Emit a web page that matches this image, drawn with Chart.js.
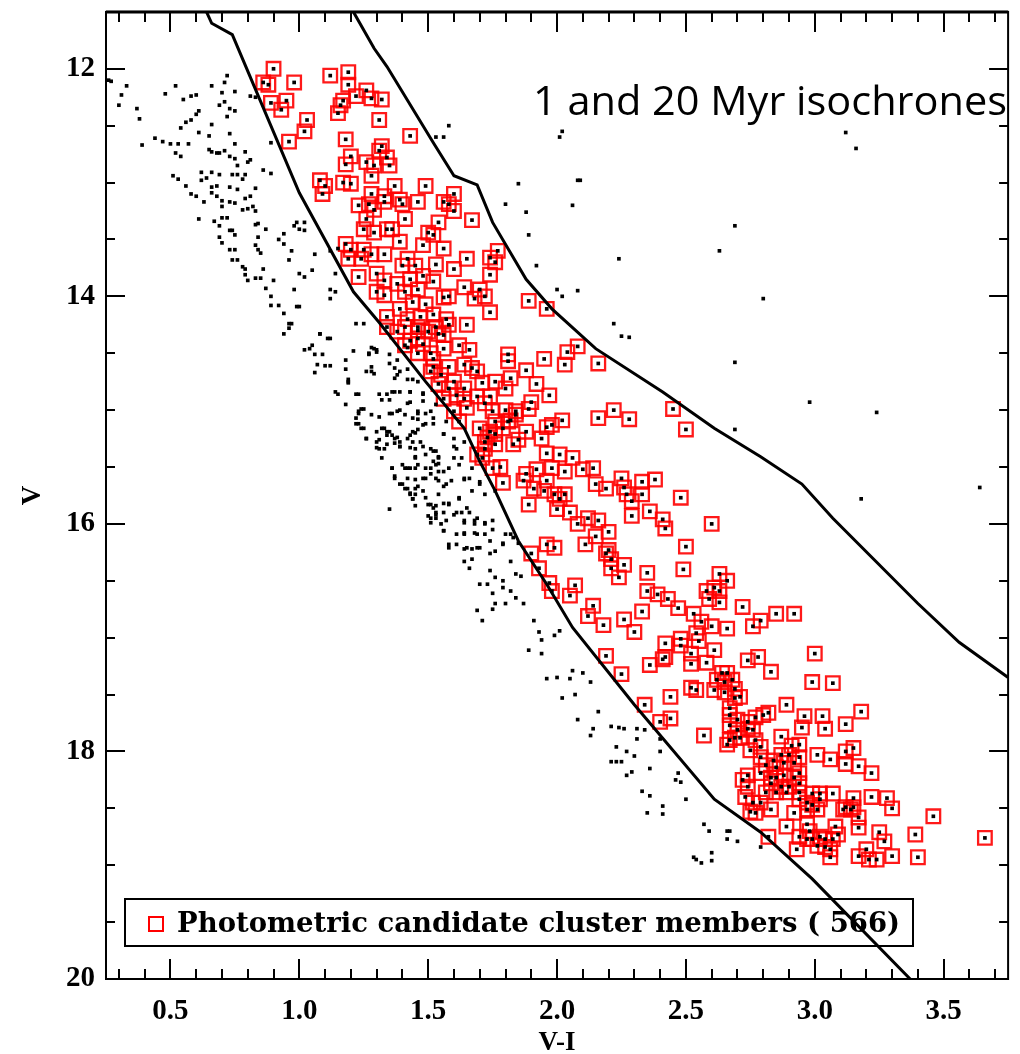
<!DOCTYPE html>
<html>
<head>
<meta charset="utf-8">
<script src="https://cdn.jsdelivr.net/npm/chart.js@4.4.1/dist/chart.umd.min.js"></script>
<style>
  html, body { margin: 0; padding: 0; background: #fff; }
  #wrap { position: relative; width: 1020px; height: 1054px; }
</style>
</head>
<body>
<div id="wrap"><canvas id="cmd"></canvas></div>
<script>
'use strict';

// 20 Myr isochrone (left line)
const iso20VI = [0.64, 0.66, 0.74, 1.00, 1.21, 1.31, 1.49, 1.64, 1.70, 1.76, 1.85, 1.96, 2.06, 2.30, 2.61, 2.79, 2.99, 3.37];
const iso20V  = [11.50, 11.60, 11.70, 13.09, 13.96, 14.23, 14.75, 15.16, 15.45, 15.71, 16.15, 16.53, 16.91, 17.59, 18.42, 18.71, 19.12, 20.00];

// 1 Myr isochrone (right line)
const iso1VI = [1.21, 1.29, 1.34, 1.52, 1.60, 1.69, 1.75, 1.88, 1.98, 2.15, 2.41, 2.61, 2.79, 2.95, 3.07, 3.40, 3.56, 3.75];
const iso1V  = [11.50, 11.82, 11.98, 12.65, 12.94, 13.02, 13.35, 13.85, 14.11, 14.46, 14.84, 15.16, 15.41, 15.65, 15.95, 16.70, 17.04, 17.35];

// all other stars [V-I, V]
const fieldStars = [
  [0.26,12.10],[0.27,12.11],[0.33,12.15],[0.31,12.23],[0.30,12.32],[0.37,12.35],[0.38,12.44],[0.39,12.67],[0.44,12.61],[0.47,12.64],
  [0.48,12.22],[0.52,12.15],[0.55,12.27],[0.58,12.24],[0.60,12.23],[0.54,12.52],[0.56,12.47],[0.58,12.45],[0.61,12.37],[0.60,12.40],
  [0.50,12.66],[0.53,12.66],[0.57,12.66],[0.52,12.74],[0.54,12.77],[0.51,12.94],[0.53,12.97],[0.56,13.03],[0.58,13.10],[0.60,13.12],
  [0.63,13.17],[0.61,13.32],[0.67,13.34],[0.69,13.38],[0.70,13.31],[0.72,13.31],[0.69,13.48],[0.70,13.53],[0.73,13.42],[0.74,13.42],
  [0.73,13.59],[0.75,13.59],[0.74,13.68],[0.76,13.68],[0.78,13.74],[0.79,13.76],[0.79,13.81],[0.80,13.86],[0.83,13.84],[0.85,13.84],
  [0.86,13.76],[0.87,13.93],[0.89,14.00],[0.89,14.08],[0.92,14.08],[0.94,14.15],[0.96,14.24],[0.98,13.94],[0.90,13.86],[0.99,14.09],
  [0.61,12.56],[0.66,12.49],[0.65,12.59],[0.66,12.15],[0.70,12.21],[0.71,12.12],[0.72,12.06],[0.75,12.20],[0.69,12.32],[0.71,12.29],
  [0.73,12.35],[0.75,12.37],[0.72,12.42],[0.73,12.57],[0.75,12.66],[0.65,12.71],[0.66,12.73],[0.68,12.74],[0.69,12.74],[0.71,12.72],
  [0.73,12.77],[0.79,12.73],[0.75,12.79],[0.76,12.85],[0.80,12.82],[0.81,12.80],[0.62,12.91],[0.64,12.96],[0.66,12.91],[0.69,12.93],
  [0.74,12.93],[0.76,12.93],[0.79,12.93],[0.78,12.97],[0.62,12.98],[0.66,13.04],[0.68,13.03],[0.73,13.04],[0.76,13.06],[0.66,13.09],
  [0.68,13.12],[0.70,13.16],[0.73,13.17],[0.75,13.18],[0.79,13.14],[0.81,13.12],[0.83,13.05],[0.78,13.24],[0.80,13.23],[0.82,13.21],
  [0.83,13.25],[0.70,13.21],[0.86,12.89],[0.89,12.92],[0.81,12.24],[0.83,12.25],[0.89,12.65],[0.83,13.37],[0.84,13.36],[0.87,13.41],
  [0.92,13.50],[0.94,13.45],[0.94,13.54],[0.97,13.60],[0.96,13.68],[0.98,13.38],[0.99,13.35],[0.84,13.48],[0.83,13.55],[0.84,13.59],
  [0.85,13.62],[0.75,13.46],
  [1.58,12.50],[1.53,12.60],[1.56,12.60],[2.02,12.55],[2.01,12.60],[1.85,13.01],[2.08,12.98],[2.09,12.98],[1.80,13.19],[1.88,13.26],
  [2.06,13.20],[1.89,13.46],[1.92,13.73],[2.00,13.94],[2.02,14.00],[2.08,13.95],
  [1.02,13.35],[1.00,13.41],[1.02,13.42],[1.06,13.63],[1.05,13.77],[1.02,13.83],[1.00,13.80],[1.12,13.94],[1.14,13.96],[1.12,14.02],
  [1.00,14.09],[1.14,13.80],[1.22,14.24],[1.25,14.24],[1.08,14.33],[1.12,14.37],[1.12,13.60],[1.15,13.58],
  [3.12,12.56],[3.16,12.70],[2.69,13.38],[2.63,13.60],[2.80,14.02],[2.24,13.67],[2.22,14.24],[2.25,14.35],[2.28,14.36],
  [2.69,14.58],[2.98,14.93],[3.24,15.02],[2.69,15.17],[3.18,15.78],[3.64,15.68],
  [0.94,14.33],[0.96,14.28],[0.97,14.24],[1.02,14.47],[1.04,14.46],[1.05,14.43],[1.06,14.51],[1.09,14.51],[1.08,14.33],[1.11,14.37],
  [1.07,14.60],[1.06,14.67],[1.10,14.61],[1.12,14.61],[1.18,14.56],[1.18,14.64],[1.21,14.48],[1.19,14.73],[1.19,14.76],[1.14,14.84],
  [1.15,14.86],[1.18,14.95],[1.22,14.86],[1.26,14.66],[1.28,14.66],[1.28,14.62],[1.27,14.50],[1.29,14.46],[1.30,14.49],[1.23,15.01],
  [1.25,14.99],[1.22,15.07],[1.23,15.12],[1.25,15.16],[1.28,15.04],[1.31,15.06],[1.26,15.25],[1.30,15.19],[1.33,15.16],[1.35,15.19],
  [1.31,15.26],[1.34,15.22],[1.31,14.86],[1.34,14.86],[1.37,14.84],[1.32,14.91],[1.35,14.91],[1.38,15.01],[1.35,15.03],[1.39,15.12],
  [1.38,15.24],[1.31,15.34],[1.33,15.34],[1.32,15.42],[1.37,15.29],[1.39,15.32],[1.37,15.58],[1.36,15.51],[1.40,15.48],[1.42,15.51],
  [1.39,15.65],[1.41,15.69],[1.43,15.73],[1.44,15.78],[1.45,15.84],[1.37,14.72],[1.39,14.66],[1.35,14.51],[1.38,14.56],[1.42,14.73],
  [1.43,14.84],[1.42,14.94],[1.44,15.07],[1.45,15.20],[1.43,15.33],[1.45,15.41],
  [1.42,14.64],[1.43,14.93],[1.41,15.04],[1.46,15.01],[1.48,14.85],[1.51,15.01],[1.52,15.07],[1.48,15.13],[1.44,15.19],[1.42,15.25],
  [1.47,15.28],[1.51,15.34],[1.53,15.36],[1.57,15.10],[1.56,15.21],[1.60,15.25],[1.61,15.34],[1.64,15.28],[1.54,15.42],[1.52,15.45],
  [1.43,15.51],[1.46,15.48],[1.48,15.60],[1.42,15.60],[1.45,15.69],[1.43,15.74],[1.51,15.56],[1.54,15.62],[1.57,15.65],[1.54,15.74],
  [1.58,15.51],[1.62,15.48],[1.64,15.60],[1.67,15.51],[1.50,15.83],[1.52,15.86],[1.51,15.95],[1.53,15.92],[1.57,15.97],[1.56,16.06],
  [1.58,15.82],[1.61,15.90],[1.62,15.77],[1.64,15.97],[1.68,15.97],[1.69,16.09],[1.64,16.09],[1.61,16.18],[1.65,16.21],[1.69,16.21],
  [1.58,16.21],[1.69,15.95],[1.72,15.99],[1.75,15.97],[1.65,15.86],[1.72,15.74],[1.70,15.63],[1.64,16.33],[1.66,16.39],[1.70,16.53],
  [1.73,16.53],[1.74,16.41],[1.76,16.47],[1.75,16.61],[1.76,16.70],[1.75,16.75],[1.79,16.56],[1.82,16.59],[1.80,16.70],[1.84,16.65],
  [1.87,16.70],[1.79,16.50],[1.82,16.33],[1.84,16.44],[1.86,16.46],[1.79,16.17],[1.80,16.09],[1.83,16.12],[1.72,16.09],[1.74,16.15],
  [1.76,16.24],[1.85,16.17],[1.91,16.85],[1.93,16.95],[1.94,17.02],[1.99,16.98],[2.01,16.94],[1.89,17.11],[1.94,17.14],[1.69,16.76],
  [1.71,16.85],[1.42,14.45],[1.46,14.75],[1.53,14.95],[1.53,15.48],[1.54,15.54],
  [1.27,14.51],[1.28,14.45],[1.30,14.47],[1.19,14.75],[1.29,14.68],[1.35,14.59],[1.37,14.63],[1.38,14.69],[1.44,14.73],[1.23,14.86],
  [1.36,14.84],[1.39,14.84],[1.43,14.84],[1.48,14.86],[1.48,14.92],[1.23,15.03],[1.24,14.99],[1.36,15.03],[1.39,15.00],[1.46,15.03],
  [1.49,15.03],[1.46,15.08],[1.49,15.12],[1.52,15.12],[1.22,15.12],[1.24,15.16],[1.32,15.16],[1.34,15.19],[1.36,15.22],[1.37,15.25],
  [1.39,15.28],[1.43,15.22],[1.44,15.28],[1.46,15.17],[1.26,15.25],[1.30,15.28],[1.34,15.30],[1.30,15.33],[1.39,15.32],[1.45,15.34],
  [1.48,15.32],[1.52,15.36],[1.56,15.21],[1.49,15.39],[1.45,15.42],[1.54,15.41],[1.60,15.32],[1.60,15.42],[1.63,15.42],[1.36,15.51],
  [1.41,15.51],[1.45,15.51],[1.49,15.51],[1.51,15.51],[1.54,15.47],[1.56,15.54],[1.37,15.60],[1.40,15.65],[1.45,15.61],[1.46,15.67],
  [1.49,15.60],[1.53,15.60],[1.56,15.67],[1.59,15.62],[1.64,15.61],[1.42,15.69],[1.45,15.74],[1.48,15.71],[1.49,15.77],[1.44,15.78],
  [1.51,15.83],[1.53,15.84],[1.56,15.82],[1.58,15.83],[1.53,15.90],[1.50,15.93],[1.53,15.95],[1.56,15.90],[1.60,15.92],[1.63,15.90],
  [1.66,15.90],[1.62,15.78],[1.67,15.71],[1.70,15.65],[1.66,15.60],[1.51,15.99],[1.55,16.00],[1.56,16.06],[1.64,15.99],[1.68,16.00],
  [1.64,16.08],[1.61,16.09],[1.68,16.08],[1.72,16.00],[1.75,16.05],[1.58,16.18],[1.64,16.22],[1.67,16.22],[1.70,16.21],[1.74,16.26],
  [1.67,16.31],[1.79,16.18],[1.76,15.71],[1.82,16.09],[1.35,15.87],
  [1.96,17.36],[2.00,17.35],[2.05,17.36],[2.06,17.29],[2.10,17.31],[2.13,17.39],[2.02,17.53],[2.07,17.50],[2.16,17.65],[2.08,17.72],
  [2.14,17.80],[2.13,17.86],[2.21,17.78],[2.24,17.79],[2.26,17.80],[2.23,17.96],[2.27,18.00],[2.21,18.09],[2.23,18.09],[2.25,18.09],
  [2.27,18.21],[2.29,18.18],[2.30,18.04],
  [2.31,17.80],[2.34,17.81],[2.31,17.89],[2.36,18.15],[2.40,17.89],[2.40,18.00],[2.47,18.19],[2.46,18.25],[2.48,18.27],[2.33,18.35],
  [2.36,18.39],[2.50,18.42],[2.41,18.48],[2.41,18.55],[2.35,18.54],[2.57,18.64],[2.59,18.70],[2.66,18.70],[2.67,18.70],[2.66,18.77],
  [2.70,18.79],[2.79,18.84],[2.53,18.93],[2.54,18.95],[2.56,18.98],[2.60,18.89],[2.60,18.96]
];

// photometric candidate cluster members [V-I, V]
const members = [
  [0.90,12.00],[0.86,12.12],[0.88,12.14],[0.98,12.12],[0.89,12.30],[0.95,12.28],[0.93,12.36],[0.96,12.64],
  [1.03,12.45],[1.02,12.55],[1.12,12.06],[1.19,12.03],[1.19,12.14],[1.22,12.24],[1.26,12.19],[1.28,12.26],[1.32,12.27],[1.17,12.28],
  [1.16,12.32],[1.15,12.39],[1.31,12.45],[1.43,12.59],[1.18,12.62],[1.20,12.77],[1.18,12.84],[1.26,12.82],[1.32,12.68],[1.31,12.72],
  [1.34,12.78],[1.35,12.85],[1.29,12.85],[1.28,12.94],[1.08,12.98],[1.10,13.03],[1.09,13.10],[1.17,13.00],[1.20,13.01],[1.37,13.03],
  [1.49,13.03],[1.28,13.10],[1.33,13.12],[1.39,13.15],[1.46,13.17],[1.56,13.17],[1.60,13.10],[1.60,13.25],[1.58,13.19],[1.23,13.20],
  [1.27,13.19],[1.29,13.24],[1.26,13.32],[1.33,13.17],[1.40,13.19],[1.41,13.32],[1.54,13.35],[1.67,13.33],[1.25,13.41],[1.29,13.44],
  [1.34,13.41],[1.36,13.41],[1.50,13.44],[1.52,13.46],[1.39,13.52],[1.48,13.55],[1.56,13.58],[1.18,13.54],[1.20,13.59],[1.25,13.59],
  [1.28,13.63],[1.33,13.63],[1.19,13.67],[1.24,13.67],[1.42,13.67],[1.40,13.73],[1.45,13.73],[1.53,13.72],[1.65,13.67],[1.60,13.76],
  [1.74,13.66],[1.76,13.70],[1.77,13.60],[1.74,13.81],[1.23,13.83],[1.30,13.80],[1.33,13.86],[1.38,13.89],[1.43,13.85],[1.48,13.82],
  [1.52,13.87],[1.64,13.92],[1.70,13.94],[1.68,14.02],[1.72,14.00],[1.74,14.14],[1.89,14.04],[1.96,14.11],[1.30,13.96],[1.33,13.99],
  [1.41,13.96],[1.46,13.94],[1.44,14.05],[1.49,14.07],[1.56,14.01],[1.58,14.00],[1.39,14.11],[1.34,14.18],[1.42,14.20],[1.47,14.18],
  [1.52,14.16],[1.57,14.20],[1.65,14.25],[1.34,14.27],[1.38,14.31],[1.46,14.30],[1.54,14.33],
  [1.66,14.47],[1.62,14.43],[1.81,14.51],[1.81,14.57],[1.88,14.65],[1.95,14.55],[2.04,14.49],[2.08,14.44],[2.03,14.60],[2.16,14.59],
  [1.92,14.77],[1.97,14.87],[1.90,14.93],[1.89,14.99],[1.84,15.04],[1.82,15.09],[2.02,15.09],[1.98,15.13],[1.96,15.15],[1.94,15.25],
  [2.16,15.07],[2.22,15.00],[2.28,15.08],[2.45,14.99],[2.50,15.17],[1.96,15.38],[2.01,15.39],[2.06,15.42],[2.10,15.52],[2.14,15.51],
  [2.03,15.54],[1.98,15.51],[1.92,15.52],[1.88,15.56],[1.87,15.62],[1.91,15.69],[1.96,15.62],[1.95,15.71],[1.99,15.74],[2.03,15.74],
  [2.01,15.78],[1.89,15.83],[2.00,15.87],[2.05,15.90],[2.08,16.00],[2.12,15.95],[2.16,15.97],[2.20,16.07],[2.15,16.11],[2.11,16.18],
  [1.96,16.18],[1.99,16.21],[1.90,16.26],[1.93,16.39],[1.97,16.52],[1.98,16.59],[2.07,16.54],[2.05,16.63],[2.14,16.72],[2.12,16.81],
  [2.18,16.89],[2.19,17.16],[2.19,16.26],[2.20,16.23],[2.21,16.31],[2.21,16.39],[2.24,16.47],[2.26,16.36],[2.15,15.65],[2.19,15.69],
  [2.25,15.60],[2.26,15.68],[2.27,15.74],[2.29,15.80],[2.33,15.74],[2.33,15.63],[2.38,15.61],[2.29,15.93],[2.36,15.89],[2.41,15.96],
  [2.42,16.04],[2.48,15.77],[2.60,16.00],[2.50,16.20],[2.49,16.40],[2.35,16.43],[2.35,16.59],[2.39,16.62],[2.43,16.66],[2.47,16.74],
  [2.33,16.77],[2.26,16.84],[2.30,16.95],[2.42,17.05],[2.48,17.01],[2.53,16.79],[2.58,16.59],[2.59,16.66],[2.54,16.96],[2.52,17.14],
  [2.42,17.17],
  [1.78,15.50],[1.79,15.64],[1.75,15.51],[1.71,15.42],[1.69,15.39],[1.72,15.34],[1.76,15.30],[1.83,15.30],[1.85,15.26],[1.88,15.19],
  [1.74,15.19],[1.70,15.16],[1.73,15.24],[1.76,15.10],[1.81,15.10],[1.84,15.01],[1.80,15.00],[1.75,15.01],[1.72,14.94],[1.69,14.88],
  [1.74,14.88],[1.76,14.75],[1.71,14.76],[1.69,14.66],[1.82,14.72],[1.80,14.81],[1.64,14.81],[1.60,14.75],[1.54,14.77],[1.56,14.90],
  [1.60,15.01],[1.65,14.98],[1.62,15.10],[1.67,14.63],[1.64,14.60],[1.58,14.62],[1.52,14.62],[1.51,14.50],[1.46,14.50],[1.48,14.42],
  [1.43,14.39],[1.41,14.27],[1.46,14.27],[1.56,14.34],[1.50,14.31],[1.56,14.46],[1.46,14.37],[1.53,14.27],[1.58,14.25],[1.41,14.43],
  [1.52,14.55],[1.51,14.66],[1.55,14.69],[1.58,14.81],[1.61,14.87],[1.64,14.90],[1.76,15.21],[1.79,15.16],[1.72,15.28],
  [2.25,17.32],
  [2.63,16.44],[2.66,16.50],[2.61,16.56],[2.63,16.59],[2.63,16.69],[2.72,16.73],[2.56,16.86],[2.60,16.90],[2.66,16.92],[2.76,16.90],
  [2.79,16.85],[2.85,16.79],[2.92,16.79],[2.55,17.03],[2.61,17.11],[2.78,17.17],[3.00,17.14],[2.74,17.20],
  [2.36,17.24],[2.41,17.19],[2.48,17.07],[2.52,17.23],[2.58,17.22],[2.83,17.30],[2.64,17.31],[2.66,17.31],[2.62,17.37],[2.65,17.39],
  [2.68,17.37],[2.69,17.45],[2.61,17.46],[2.65,17.48],[2.69,17.53],[2.71,17.52],[2.99,17.39],[3.07,17.40],[2.52,17.44],[2.54,17.46],
  [2.44,17.52],[2.34,17.59],[2.44,17.71],[2.40,17.74],[2.57,17.86],[2.67,17.62],[2.67,17.68],[2.70,17.72],[2.74,17.74],[2.77,17.70],
  [2.82,17.66],[2.80,17.68],[2.67,17.77],[2.70,17.81],[2.74,17.80],[2.76,17.81],[2.67,17.90],[2.69,17.88],[2.71,17.88],[2.66,17.94],
  [2.77,17.90],[2.75,17.99],[2.79,17.96],[2.89,17.59],[2.96,17.69],[2.95,17.79],[3.03,17.69],[3.04,17.80],[3.12,17.76],[3.18,17.65],
  [2.87,17.87],[2.91,17.95],[2.94,17.94],[2.79,18.05],[2.84,18.08],[2.87,18.03],[2.90,18.03],[2.94,18.05],[2.81,18.12],[2.85,18.14],
  [2.88,18.10],[2.92,18.10],[3.01,18.03],[3.06,18.07],[3.12,18.11],[3.17,18.13],[3.22,18.19],[3.15,17.97],[3.12,18.00],[2.74,18.21],
  [2.79,18.19],[2.83,18.23],[2.85,18.23],[2.88,18.21],[2.92,18.23],[2.94,18.19],[2.83,18.28],[2.87,18.31],[2.90,18.31],[2.94,18.28],
  [2.81,18.36],[2.85,18.36],[2.89,18.36],[2.94,18.36],[2.99,18.37],[3.02,18.37],[2.74,18.31],[2.73,18.40],[2.76,18.45],[2.79,18.45],
  [2.83,18.51],[2.75,18.53],[2.77,18.54],[2.94,18.42],[2.97,18.45],[2.99,18.47],[3.02,18.42],[2.97,18.51],[3.01,18.51],[2.92,18.54],
  [3.07,18.37],[3.15,18.41],[3.12,18.49],[3.11,18.51],[3.14,18.51],[3.17,18.58],[3.17,18.67],[3.22,18.40],[3.28,18.41],[3.30,18.50],
  [3.46,18.57],[2.89,18.66],[2.93,18.86],[2.97,18.64],[2.98,18.70],[2.97,18.77],[2.99,18.77],[3.02,18.75],[3.04,18.77],[3.07,18.77],
  [3.01,18.83],[3.04,18.84],[3.06,18.86],[3.06,18.93],[3.08,18.66],[3.09,18.73],[2.94,18.75],[3.15,18.49],[3.17,18.92],[3.20,18.86],
  [3.24,18.95],[3.21,18.95],[3.25,18.71],[3.27,18.79],[3.30,18.92],[3.39,18.73],[3.40,18.93],[3.66,18.76],[2.82,18.75],[2.72,18.25]
];

const xTickValues = [0.5, 1.0, 1.5, 2.0, 2.5, 3.0, 3.5];
const yTickValues = [12, 14, 16, 18, 20];
const plotTitle = '1 and 20 Myr isochrones';
const legendLabel = 'Photometric candidate cluster members ( 566)';

const toPoints = (xs, ys) => xs.map((v, i) => ({ x: v, y: ys[i] }));
const pairsToPoints = list => list.map(p => ({ x: p[0], y: p[1] }));

// squeeze / stretch a text line to an exact width
function fitText(ctx, text, x, y, width) {
    const w = ctx.measureText(text).width;
    ctx.save();
    ctx.translate(x, y);
    ctx.scale(width / w, 1);
    ctx.fillText(text, 0, 0);
    ctx.restore();
}

const cmdDecor = {
    id: 'cmdDecor',
    beforeDatasetsDraw(chart) {
        const { ctx, chartArea: a } = chart;
        ctx.save();
        // legend box, lower left inside the frame
        const bx = a.left + 19, by = a.bottom - 80;
        ctx.fillStyle = '#fff';
        ctx.fillRect(bx, by, 788, 47);
        ctx.strokeStyle = '#000';
        ctx.lineWidth = 2;
        ctx.strokeRect(bx, by, 788, 47);
        ctx.strokeStyle = '#ff0000';
        ctx.lineWidth = 2;
        ctx.strokeRect(bx + 24, by + 18, 14, 14);
        ctx.fillStyle = '#000';
        ctx.font = 'bold 27px "DejaVu Serif"';
        ctx.textBaseline = 'alphabetic';
        fitText(ctx, legendLabel, bx + 52, by + 33, 723);
        // title text, upper right
        ctx.font = '40px "Open Sans"';
        fitText(ctx, plotTitle, a.left + 427, a.top + 103, 474);
        ctx.restore();
    },
    afterDatasetsDraw(chart) {
        const { ctx, chartArea: a, scales: { x, y } } = chart;
        ctx.save();
        ctx.strokeStyle = '#000';
        ctx.lineWidth = 2;
        ctx.beginPath();
        for (let i = 3; i <= 37; i++) {
            const px = Math.round(x.getPixelForValue(i / 10));
            const len = i % 5 === 0 ? 20 : 10;
            ctx.moveTo(px, a.bottom); ctx.lineTo(px, a.bottom - len);
            ctx.moveTo(px, a.top); ctx.lineTo(px, a.top + len);
        }
        for (let i = 24; i <= 39; i++) {
            const py = Math.round(y.getPixelForValue(i / 2));
            const len = i % 4 === 0 ? 19 : 9;
            ctx.moveTo(a.left, py); ctx.lineTo(a.left + len, py);
            ctx.moveTo(a.right, py); ctx.lineTo(a.right - len, py);
        }
        ctx.stroke();
        ctx.lineWidth = 2;
        ctx.strokeRect(a.left, a.top, a.right - a.left, a.bottom - a.top);
        ctx.lineWidth = 3;
        ctx.beginPath();
        ctx.moveTo(a.left, a.top); ctx.lineTo(a.right, a.top);
        ctx.stroke();
        ctx.restore();
    }
};

const memberPoints = pairsToPoints(members);
const labelFont = { family: '"Liberation Serif"', weight: 'bold', size: 29, lineHeight: 1.2 };

new Chart(document.getElementById('cmd'), {
    type: 'scatter',
    data: {
        datasets: [
            {
                label: '1 Myr',
                data: toPoints(iso1VI, iso1V),
                showLine: true,
                borderColor: '#000',
                borderWidth: 3,
                pointRadius: 0,
                order: 1
            },
            {
                label: '20 Myr',
                data: toPoints(iso20VI, iso20V),
                showLine: true,
                borderColor: '#000',
                borderWidth: 3,
                pointRadius: 0,
                order: 1
            },
            {
                label: 'members (dots)',
                data: memberPoints,
                pointStyle: 'rect',
                pointRadius: 2.6,
                backgroundColor: '#000',
                borderWidth: 0,
                order: 2
            },
            {
                label: 'field',
                data: pairsToPoints(fieldStars),
                pointStyle: 'rect',
                pointRadius: 2.6,
                backgroundColor: '#000',
                borderWidth: 0,
                order: 3
            },
            {
                label: 'Photometric candidate cluster members',
                data: memberPoints,
                pointStyle: 'rect',
                pointRadius: 9.6,
                backgroundColor: 'rgba(0,0,0,0)',
                borderColor: 'rgba(255,0,0,0.9)',
                borderWidth: 2.3,
                order: 4
            }
        ]
    },
    options: {
        responsive: true,
        maintainAspectRatio: false,
        animation: false,
        events: [],
        layout: { padding: { top: 9, right: 5, left: 0, bottom: 0 } },
        plugins: { legend: { display: false }, tooltip: { enabled: false } },
        scales: {
            x: {
                type: 'linear',
                min: 0.25,
                max: 3.75,
                grid: { display: false, drawTicks: false },
                border: { display: false },
                afterBuildTicks: s => { s.ticks = xTickValues.map(v => ({ value: v })); },
                afterFit: s => {
                    s.height = 75;
                    s.paddingLeft = 0; s.paddingRight = 0; s.paddingTop = 0; s.paddingBottom = 0;
                },
                ticks: {
                    padding: 15,
                    color: '#000',
                    font: labelFont,
                    maxRotation: 0,
                    autoSkip: false,
                    callback: v => Number(v).toFixed(1)
                },
                title: {
                    display: true,
                    text: 'V-I',
                    color: '#000',
                    font: { family: '"Liberation Serif"', weight: 'bold', size: 27, lineHeight: 0.8 },
                    padding: 0
                }
            },
            y: {
                type: 'linear',
                reverse: true,
                min: 11.5,
                max: 20,
                grid: { display: false, drawTicks: false },
                border: { display: false },
                afterBuildTicks: s => { s.ticks = yTickValues.map(v => ({ value: v })); },
                afterFit: s => {
                    s.width = 106;
                    s.paddingLeft = 0; s.paddingRight = 0; s.paddingTop = 0; s.paddingBottom = 0;
                },
                ticks: {
                    padding: 11,
                    color: '#000',
                    font: labelFont,
                    autoSkip: false,
                    callback: v => String(v)
                },
                title: {
                    display: true,
                    text: 'V',
                    color: '#000',
                    font: { family: '"Liberation Serif"', weight: 'bold', size: 27, lineHeight: 1 },
                    padding: { top: 19.5, bottom: 0 }
                }
            }
        }
    },
    plugins: [cmdDecor]
});
</script>
</body>
</html>
